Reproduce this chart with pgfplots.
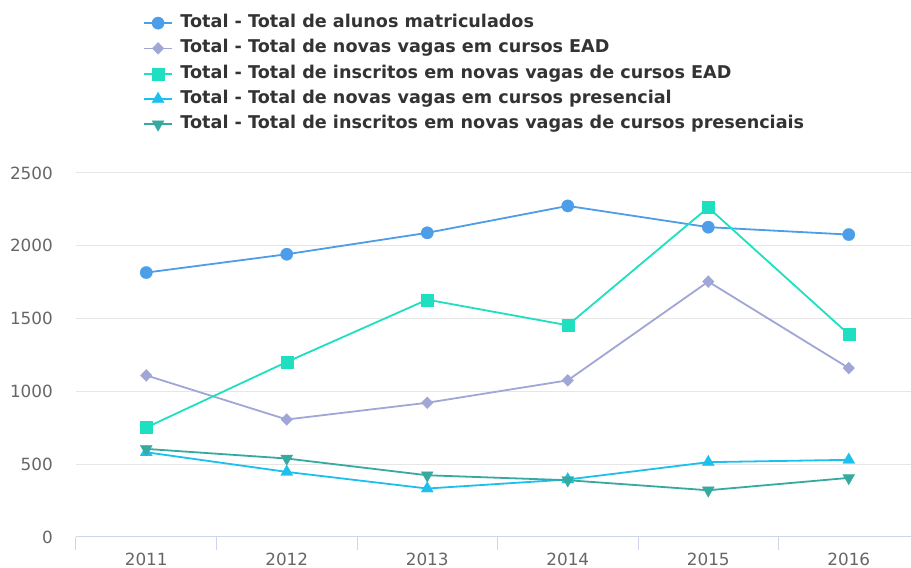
\documentclass[border=0pt]{standalone}
\usepackage{pgfplots}
\pgfplotsset{compat=1.18}
\usepackage{fontspec}
\setmainfont{DejaVu Sans}
\definecolor{c1}{HTML}{4D9DE8}
\definecolor{c2}{HTML}{A0A6D6}
\definecolor{c3}{HTML}{1EE0C0}
\definecolor{c4}{HTML}{1CC0EC}
\definecolor{c5}{HTML}{36AAA0}
\definecolor{gridc}{HTML}{E6E6E6}
\definecolor{axisc}{HTML}{CCD6EB}
\definecolor{lab}{HTML}{666666}
\definecolor{leg}{HTML}{333333}
\begin{document}
\begin{tikzpicture}[x=1pt,y=1pt]
\useasboundingbox (0,0) rectangle (911,568);
\begin{axis}[
  at={(76pt,31pt)}, anchor=south west,
  width=835pt, height=364pt, scale only axis,
  xmin=-0.5, xmax=5.443, ymin=0, ymax=2500,
  xtick={0,1,2,3,4,5},
  xticklabels={2011,2012,2013,2014,2015,2016},
  ytick={0,500,1000,1500,2000,2500},
  minor xtick={-0.5,0.5,1.5,2.5,3.5,4.5},
  major tick length=0pt, minor tick length=13pt, tick align=outside,
  minor tick style={draw=axisc, line width=1pt},
  axis x line*=bottom, axis y line*=left,
  x axis line style={draw=axisc, line width=1pt, -},
  y axis line style={draw=none},
  ymajorgrids, grid style={draw=gridc, line width=1pt},
  /pgf/number format/assume math mode=true,
  /pgf/number format/1000 sep={},
  ticklabel style={font=\fontsize{16.8}{19}\selectfont, text=lab},
  xticklabel style={inner sep=0pt, anchor=north, yshift=-16pt},
  yticklabel style={inner sep=0pt, anchor=east, xshift=-23pt},
  clip=false,
  legend style={draw=none, fill=none, at={(0.0802,1.4357)}, anchor=north west,
    inner sep=0pt, font=\fontsize{17.6}{20}\selectfont\bfseries, text=leg,
    row sep=8.3pt,
    nodes={inner sep=0pt, text height=13pt, text depth=4pt},
    /tikz/every odd column/.style={column sep=7.5pt}},
  legend cell align=left,
  legend image code/.code={\draw[mark repeat=2,mark phase=2] plot coordinates {(0pt,0pt) (14pt,0pt) (28pt,0pt)};},
]
\addplot[c1, line width=1.8pt, mark=*, mark size=6.2pt, mark options={solid, fill=c1, draw=c1, line width=0.2pt}]
  coordinates {(0,1816) (1,1942) (2,2089) (3,2274) (4,2128) (5,2077)};
\addlegendentry{Total - Total de alunos matriculados}
\addplot[c2, line width=1.8pt, mark=diamond*, mark size=6pt, mark options={solid, fill=c2, draw=c2, line width=0.2pt, xscale=1.3}]
  coordinates {(0,1110) (1,807) (2,922) (3,1076) (4,1754) (5,1160)};
\addlegendentry{Total - Total de novas vagas em cursos EAD}
\addplot[c3, line width=1.8pt, mark=square*, mark size=6pt, mark options={solid, fill=c3, draw=c3, line width=0.2pt}]
  coordinates {(0,752) (1,1202) (2,1630) (3,1454) (4,2263) (5,1392)};
\addlegendentry{Total - Total de inscritos em novas vagas de cursos EAD}
\addplot[c4, line width=1.8pt, mark=triangle*, mark size=7pt, mark options={solid, fill=c4, draw=c4, line width=0.2pt}]
  coordinates {(0,582) (1,447) (2,333) (3,395) (4,514) (5,530)};
\addlegendentry{Total - Total de novas vagas em cursos presencial}
\addplot[c5, line width=1.8pt, mark=triangle*, mark size=7pt, mark options={solid, fill=c5, draw=c5, line width=0.2pt, rotate=180}]
  coordinates {(0,605) (1,539) (2,424) (3,390) (4,321) (5,406)};
\addlegendentry{Total - Total de inscritos em novas vagas de cursos presenciais}
\end{axis}
\end{tikzpicture}
\end{document}
